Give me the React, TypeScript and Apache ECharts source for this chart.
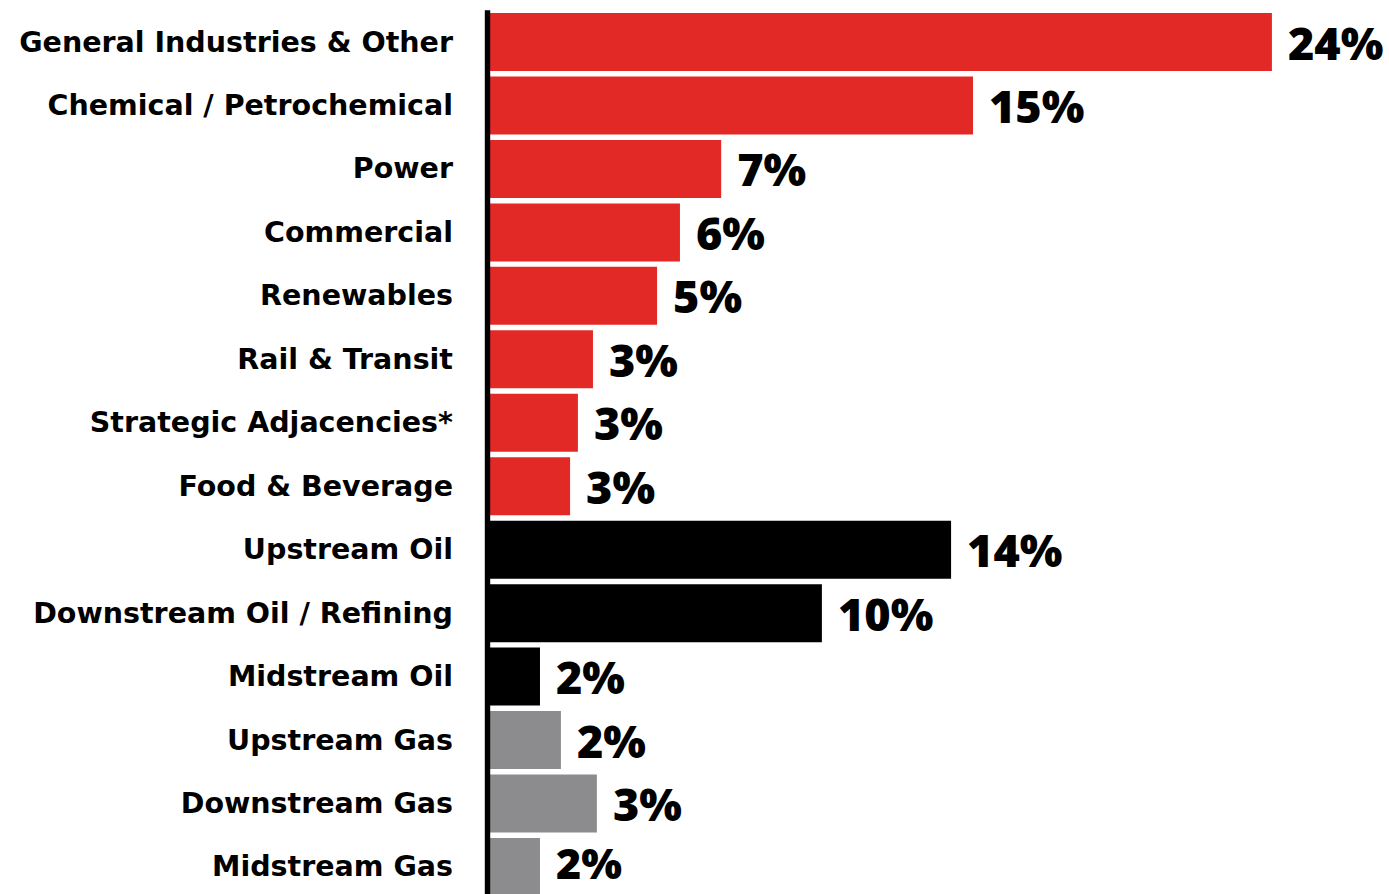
import React, { useEffect, useRef } from "react";
import * as echarts from "echarts";

const categories = [
  "General Industries & Other",
  "Chemical / Petrochemical",
  "Power",
  "Commercial",
  "Renewables",
  "Rail & Transit",
  "Strategic Adjacencies*",
  "Food & Beverage",
  "Upstream Oil",
  "Downstream Oil / Refining",
  "Midstream Oil",
  "Upstream Gas",
  "Downstream Gas",
  "Midstream Gas",
];
const values = [24.0, 14.86, 7.16, 5.9, 5.2, 3.24, 2.78, 2.54, 14.19, 10.24, 1.62, 2.26, 3.36, 1.62];
const groups = ["red", "red", "red", "red", "red", "red", "red", "red", "black", "black", "black", "gray", "gray", "gray"];
const groupColors: Record<string, string> = { red: "#E32926", black: "#000000", gray: "#8C8C8F" };

export default function App() {
  const ref = useRef<HTMLDivElement>(null);
  useEffect(() => {
    if (!ref.current) return;
    const chart = echarts.init(ref.current, null, { renderer: "svg" });
    const last = values.length - 1;
    chart.setOption({
      animation: false,
      backgroundColor: "#ffffff",
      grid: { left: 487, top: 10.3, width: 902, height: 888.4, containLabel: false },
      xAxis: {
        type: "value",
        min: 0,
        max: 27.58,
        show: false,
      },
      yAxis: {
        type: "category",
        data: categories,
        inverse: true,
        offset: 3,
        z: 10,
        axisLine: { show: true, lineStyle: { color: "#000", width: 5.4, cap: "butt" } },
        axisTick: { show: false },
        axisLabel: {
          margin: 31,
          color: "#000",
          fontFamily: "'DejaVu Sans', sans-serif",
          fontWeight: 700,
          fontSize: 28.5,
          lineHeight: 32,
        },
      },
      series: [
        {
          type: "bar",
          barWidth: 58,
          data: values.map((v, i) => ({
            value: v,
            itemStyle: { color: groupColors[groups[i]] },
            ...(i === last ? { label: { offset: [0, -4], fontSize: 43 } } : {}),
          })),
          label: {
            show: true,
            position: "right",
            distance: 16,
            color: "#000",
            fontFamily: "'Open Sans', sans-serif",
            fontWeight: 800,
            fontSize: 45,
            lineHeight: 38,
            formatter: (p: any) => Math.round(p.value) + "%",
          },
        },
      ],
    });
    return () => chart.dispose();
  }, []);
  return (
    <div
      ref={ref}
      style={{ position: "fixed", left: 0, top: 0, width: 1389, height: 900 }}
    />
  );
}
